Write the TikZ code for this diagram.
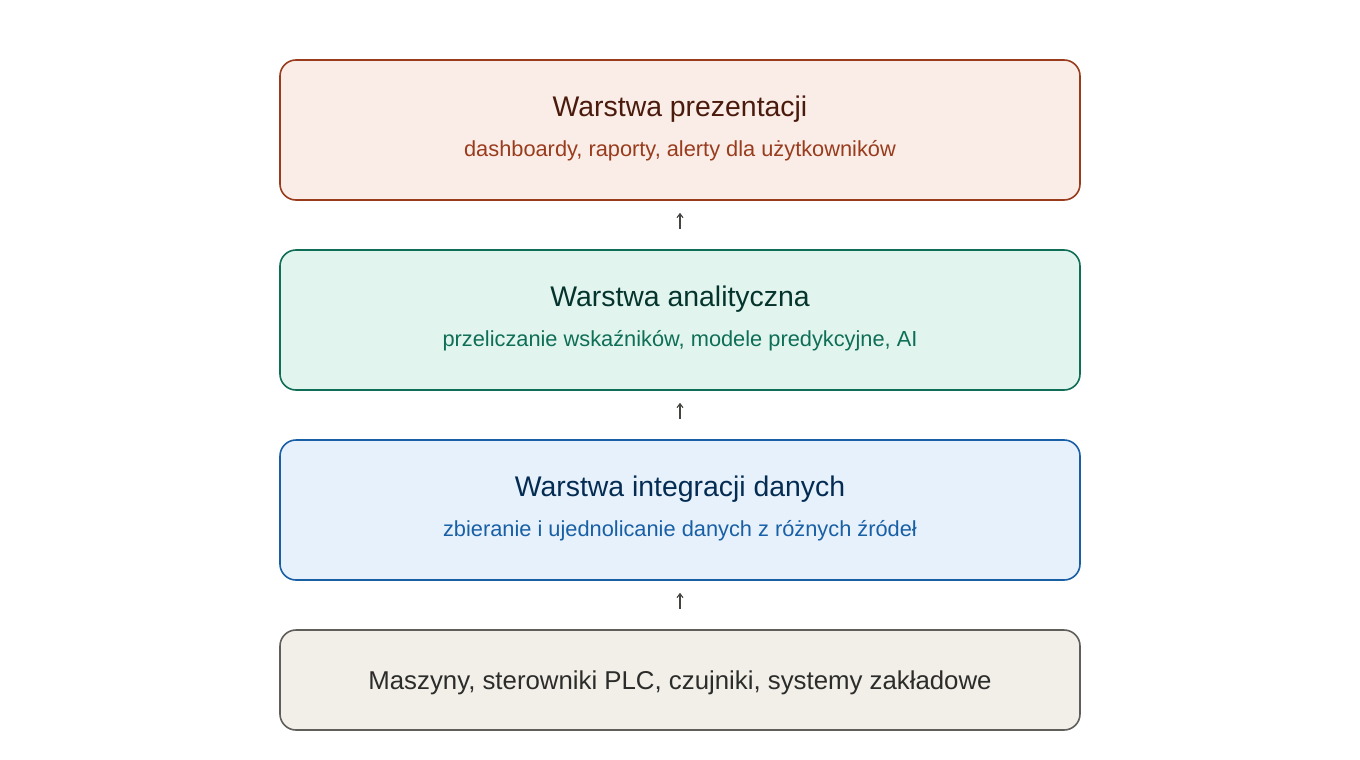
\documentclass[tikz,border=0pt]{standalone}
\usepackage{fontspec}
\setmainfont{Liberation Sans}
\usetikzlibrary{arrows.meta}

\tikzset{
  layer/.style={rounded corners=16pt, line width=1.6pt, minimum width=800pt, inner sep=0pt},
  conn/.style={line width=1.1pt, color=arrowgray, -{Straight Barb[length=4pt,width=6pt]}},
}

\begin{document}
\begin{tikzpicture}[x=1pt,y=-1pt]

% Define colors
\definecolor{presfill}{HTML}{FAECE7}
\definecolor{presline}{HTML}{993C1D}
\definecolor{prestitle}{HTML}{4A1B0C}
\definecolor{analfill}{HTML}{E1F5EE}
\definecolor{analline}{HTML}{0F6E56}
\definecolor{analtitle}{HTML}{04342C}
\definecolor{integfill}{HTML}{E6F1FB}
\definecolor{integline}{HTML}{185FA5}
\definecolor{integtitle}{HTML}{042C53}
\definecolor{srcfill}{HTML}{F1EFE8}
\definecolor{srcline}{HTML}{5F5E5A}
\definecolor{srctitle}{HTML}{2C2C2A}
\definecolor{arrowgray}{HTML}{444441}

\useasboundingbox (0,0) rectangle (1360,760);

% Draw the layers
\node[layer, fill=presfill, draw=presline, minimum height=140pt] (pres) at (680,130) {};
\node[text=prestitle, font=\fontsize{28.4}{32}\selectfont] (presT) at (680,109) {Warstwa prezentacji};
\node[text=presline, font=\fontsize{21.8}{26}\selectfont] (presS) at (680,151) {dashboardy, raporty, alerty dla użytkowników};

\node[layer, fill=analfill, draw=analline, minimum height=140pt] (anal) at (680,320) {};
\node[text=analtitle, font=\fontsize{28.4}{32}\selectfont] (analT) at (680,299) {Warstwa analityczna};
\node[text=analline, font=\fontsize{21.8}{26}\selectfont] (analS) at (680,341) {przeliczanie wskaźników, modele predykcyjne, AI};

\node[layer, fill=integfill, draw=integline, minimum height=140pt] (integ) at (680,510) {};
\node[text=integtitle, font=\fontsize{28.4}{32}\selectfont] (integT) at (680,489) {Warstwa integracji danych};
\node[text=integline, font=\fontsize{21.8}{26}\selectfont] (integS) at (680,531) {zbieranie i ujednolicanie danych z różnych źródeł};

\node[layer, fill=srcfill, draw=srcline, minimum height=100pt] (src) at (680,680) {};
\node[text=srctitle, font=\fontsize{25.8}{30}\selectfont] (srcT) at (680,683) {Maszyny, sterowniki PLC, czujniki, systemy zakładowe};

% Draw the arrows
\draw[conn, shorten <=20pt, shorten >=12pt] (anal.north) -- (pres.south);
\draw[conn, shorten <=20pt, shorten >=12pt] (integ.north) -- (anal.south);
\draw[conn, shorten <=20pt, shorten >=12pt] (src.north) -- (integ.south);

\end{tikzpicture}
\end{document}
